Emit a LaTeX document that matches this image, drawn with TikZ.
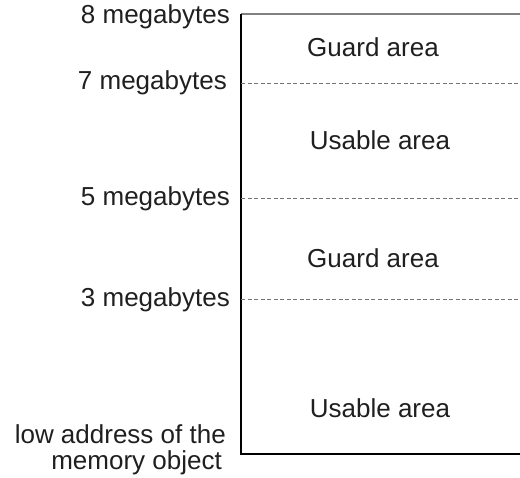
\documentclass[tikz,border=0pt]{standalone}
\usepackage{fontspec}
\setmainfont{Liberation Sans}
\begin{document}
\begin{tikzpicture}[x=1pt,y=1pt,
  lbl/.style={font=\fontsize{26}{30}\selectfont, text=black!88, inner sep=0pt},
  lft/.style={lbl, anchor=east, align=right},
  solidline/.style={line width=1.3pt, black},
  topline/.style={line width=1.5pt, black!50},
  dashline/.style={line width=1pt, black!55, dash pattern=on 4pt off 2.5pt}]
\useasboundingbox (0,0) rectangle (520,478);
% coordinates (y flipped: 478 - y)
\coordinate (tl) at (241,464);
\coordinate (tr) at (520,464);
\coordinate (bl) at (241,24);
\coordinate (br) at (520,24);
\coordinate (a7) at (241,394);
\coordinate (b7) at (520,394);
\coordinate (a5) at (241,279);
\coordinate (b5) at (520,279);
\coordinate (a3) at (241,178);
\coordinate (b3) at (520,178);
\draw[topline] (tl) -- (tr);
\draw[solidline] (tl) -- (bl) -- (br);
\draw[dashline] (a7) -- (b7);
\draw[dashline] (a5) -- (b5);
\draw[dashline] (a3) -- (b3);
\node[lft] (m8) at (230,461) {8 megabytes};
\node[lft] (m7) at (227,395) {7 megabytes};
\node[lft] (m5) at (230,279) {5 megabytes};
\node[lft] (m3) at (230,178) {3 megabytes};
\node[lft, anchor=base east] (low) at (226,34) {low address of the};
\node[lft, anchor=base east] (mem) at (222,8) {memory object};
\node[lbl] (g1) at (373,431) {Guard area};
\node[lbl] (u1) at (380,338) {Usable area};
\node[lbl] (g2) at (373,220) {Guard area};
\node[lbl] (u2) at (380,70) {Usable area};
\end{tikzpicture}
\end{document}
